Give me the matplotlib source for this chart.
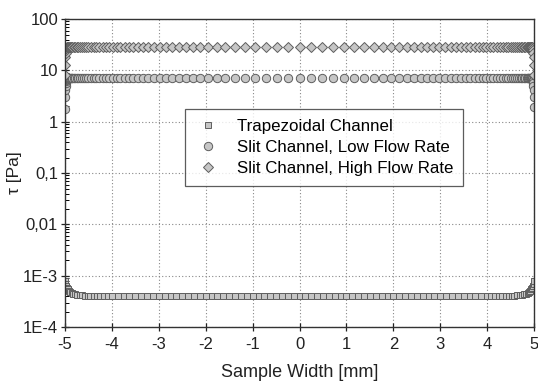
import numpy as np
import matplotlib
matplotlib.use('Agg')
import matplotlib.pyplot as plt
from matplotlib.ticker import LogLocator, NullFormatter

plt.rcParams['font.family'] = ['Liberation Sans', 'DejaVu Sans']

# Slit channel: sample positions [mm], denser towards the walls
x_slit = [
  -5.00, -4.995, -4.99, -4.985, -4.98, -4.975, -4.97, -4.96, -4.95, -4.94,
  -4.93, -4.92, -4.90, -4.88, -4.86, -4.84, -4.81, -4.78, -4.75, -4.72,
  -4.68, -4.64, -4.60, -4.55, -4.50, -4.45, -4.39, -4.33, -4.27, -4.20,
  -4.13, -4.06, -3.98, -3.90, -3.82, -3.73, -3.64, -3.54, -3.44, -3.33,
  -3.22, -3.10, -2.98, -2.85, -2.72, -2.58, -2.43, -2.28, -2.12, -1.95,
  -1.77, -1.58, -1.38, -1.17, -0.95, -0.72, -0.48, -0.24, 0.00,
  0.24, 0.48, 0.72, 0.95, 1.17, 1.38, 1.58, 1.77, 1.95, 2.12,
  2.28, 2.43, 2.58, 2.72, 2.85, 2.98, 3.10, 3.22, 3.33, 3.44,
  3.54, 3.64, 3.73, 3.82, 3.90, 3.98, 4.06, 4.13, 4.20, 4.27,
  4.33, 4.39, 4.45, 4.50, 4.55, 4.60, 4.64, 4.68, 4.72, 4.75,
  4.78, 4.81, 4.84, 4.86, 4.88, 4.90, 4.92, 4.93, 4.94, 4.95,
  4.96, 4.97, 4.975, 4.98, 4.985, 4.99, 4.995, 5.00,
]

# wall shear stress [Pa], low flow rate
tau_low = [
  1.8, 3.0, 4.2, 5.0, 5.7, 6.2, 6.5, 6.9, 7.1, 7.2,
  7.2, 7.2, 7.2, 7.2, 7.2, 7.2, 7.2, 7.2, 7.2, 7.2,
  7.2, 7.2, 7.2, 7.2, 7.2, 7.2, 7.2, 7.2, 7.2, 7.2,
  7.2, 7.2, 7.2, 7.2, 7.2, 7.2, 7.2, 7.2, 7.2, 7.2,
  7.2, 7.2, 7.2, 7.2, 7.2, 7.2, 7.2, 7.2, 7.2, 7.2,
  7.2, 7.2, 7.2, 7.2, 7.2, 7.2, 7.2, 7.2, 7.2,
  7.2, 7.2, 7.2, 7.2, 7.2, 7.2, 7.2, 7.2, 7.2, 7.2,
  7.2, 7.2, 7.2, 7.2, 7.2, 7.2, 7.2, 7.2, 7.2, 7.2,
  7.2, 7.2, 7.2, 7.2, 7.2, 7.2, 7.2, 7.2, 7.2, 7.2,
  7.2, 7.2, 7.2, 7.2, 7.2, 7.2, 7.2, 7.2, 7.2, 7.2,
  7.2, 7.2, 7.2, 7.2, 7.2, 7.2, 7.2, 7.2, 7.2, 7.1,
  6.9, 6.5, 6.2, 5.7, 5.0, 4.2, 3.0, 1.9,
]

# wall shear stress [Pa], high flow rate
tau_high = [
  8.0, 13.0, 18.0, 22.0, 25.0, 27.0, 28.0, 28.7, 29.0, 29.0,
  29.0, 29.0, 29.0, 29.0, 29.0, 29.0, 29.0, 29.0, 29.0, 29.0,
  29.0, 29.0, 29.0, 29.0, 29.0, 29.0, 29.0, 29.0, 29.0, 29.0,
  29.0, 29.0, 29.0, 29.0, 29.0, 29.0, 29.0, 29.0, 29.0, 29.0,
  29.0, 29.0, 29.0, 29.0, 29.0, 29.0, 29.0, 29.0, 29.0, 29.0,
  29.0, 29.0, 29.0, 29.0, 29.0, 29.0, 29.0, 29.0, 29.0,
  29.0, 29.0, 29.0, 29.0, 29.0, 29.0, 29.0, 29.0, 29.0, 29.0,
  29.0, 29.0, 29.0, 29.0, 29.0, 29.0, 29.0, 29.0, 29.0, 29.0,
  29.0, 29.0, 29.0, 29.0, 29.0, 29.0, 29.0, 29.0, 29.0, 29.0,
  29.0, 29.0, 29.0, 29.0, 29.0, 29.0, 29.0, 29.0, 29.0, 29.0,
  29.0, 29.0, 29.0, 29.0, 29.0, 29.0, 29.0, 29.0, 29.0, 29.0,
  28.7, 28.0, 27.0, 25.0, 22.0, 18.0, 13.0, 8.0,
]

# Trapezoidal channel
x_trap = [
  -5.00, -4.99, -4.98, -4.96, -4.94, -4.92, -4.89, -4.86, -4.82, -4.78,
  -4.74, -4.69, -4.64, -4.58, -4.52, -4.46, -4.39, -4.32, -4.25, -4.17,
  -4.09,
  -4.000, -3.875, -3.750, -3.625, -3.500, -3.375, -3.250, -3.125,
  -3.000, -2.875, -2.750, -2.625, -2.500, -2.375, -2.250, -2.125,
  -2.000, -1.875, -1.750, -1.625, -1.500, -1.375, -1.250, -1.125,
  -1.000, -0.875, -0.750, -0.625, -0.500, -0.375, -0.250, -0.125,
  0.000, 0.125, 0.250, 0.375, 0.500, 0.625, 0.750, 0.875,
  1.000, 1.125, 1.250, 1.375, 1.500, 1.625, 1.750, 1.875,
  2.000, 2.125, 2.250, 2.375, 2.500, 2.625, 2.750, 2.875,
  3.000, 3.125, 3.250, 3.375, 3.500, 3.625, 3.750, 3.875,
  4.000,
  4.09, 4.17, 4.25, 4.32, 4.39, 4.46, 4.52, 4.58, 4.64, 4.69,
  4.74, 4.78, 4.82, 4.86, 4.89, 4.92, 4.94, 4.96, 4.98, 4.99, 5.00,
]

tau_trap_edge = [
  8.0e-4, 7.0e-4, 6.4e-4, 5.8e-4, 5.4e-4, 5.1e-4, 4.85e-4, 4.65e-4, 4.5e-4, 4.38e-4,
  4.28e-4, 4.2e-4, 4.15e-4, 4.1e-4, 4.07e-4, 4.05e-4, 4.03e-4, 4.02e-4, 4.01e-4, 4.0e-4,
  4.0e-4,
]
tau_trap_mid = [4.0e-4] * 65
tau_trap = tau_trap_edge + tau_trap_mid + tau_trap_edge[::-1]

labels = ['Trapezoidal Channel', 'Slit Channel, Low Flow Rate', 'Slit Channel, High Flow Rate']
ytick_vals = [1e-4, 1e-3, 1e-2, 1e-1, 1, 10, 100]
ytick_labels = ['1E-4', '1E-3', '0,01', '0,1', '1', '10', '100']
xtick_vals = [-5, -4, -3, -2, -1, 0, 1, 2, 3, 4, 5]

face = '#c6c6c6'
edge = '#5e5e5e'

fig = plt.figure(figsize=(5.38, 3.83), dpi=100)
ax = fig.add_axes([0.1208, 0.146, 0.872, 0.804])

ax.plot(x_trap, tau_trap, 's', ms=4.8, mfc=face, mec=edge, mew=0.7, label=labels[0])
ax.plot(x_slit, tau_low, 'o', ms=6.0, mfc=face, mec=edge, mew=0.7, label=labels[1])
ax.plot(x_slit, tau_high, 'D', ms=5.2, mfc=face, mec=edge, mew=0.7, label=labels[2])

ax.set_yscale('log')
ax.set_xlim(-5, 5)
ax.set_ylim(1e-4, 100)
ax.set_xticks(xtick_vals)
ax.set_xticklabels([str(v) for v in xtick_vals])
ax.set_yticks(ytick_vals)
ax.set_yticklabels(ytick_labels)
ax.yaxis.set_minor_locator(LogLocator(base=10, subs=np.arange(2, 10), numticks=20))
ax.yaxis.set_minor_formatter(NullFormatter())

ax.tick_params(axis='both', which='major', direction='inout', length=6, width=0.9,
               labelsize=12, colors='#222222', top=False, right=False, pad=2)
ax.tick_params(axis='x', which='major', pad=4)
ax.tick_params(axis='y', which='minor', direction='in', length=3, width=0.7, right=False)
for s in ax.spines.values():
  s.set_color('#333333')
  s.set_linewidth(1.0)

ax.grid(True, which='major', linestyle=(0, (1, 2)), color='#888888', linewidth=0.8)

ax.set_xlabel('Sample Width [mm]', fontsize=13, color='#222222', labelpad=9)
ax.set_ylabel('τ [Pa]', fontsize=12.5, color='#222222', labelpad=1)

leg = ax.legend(loc='upper left', bbox_to_anchor=(0.256, 0.708), borderaxespad=0,
                fontsize=12.2, frameon=True, fancybox=False, handletextpad=0.95,
                handlelength=1.5, labelspacing=0.35, borderpad=0.6)
leg.get_frame().set_edgecolor('#333333')
leg.get_frame().set_linewidth(0.9)

fig.savefig('out.png', dpi=100)
